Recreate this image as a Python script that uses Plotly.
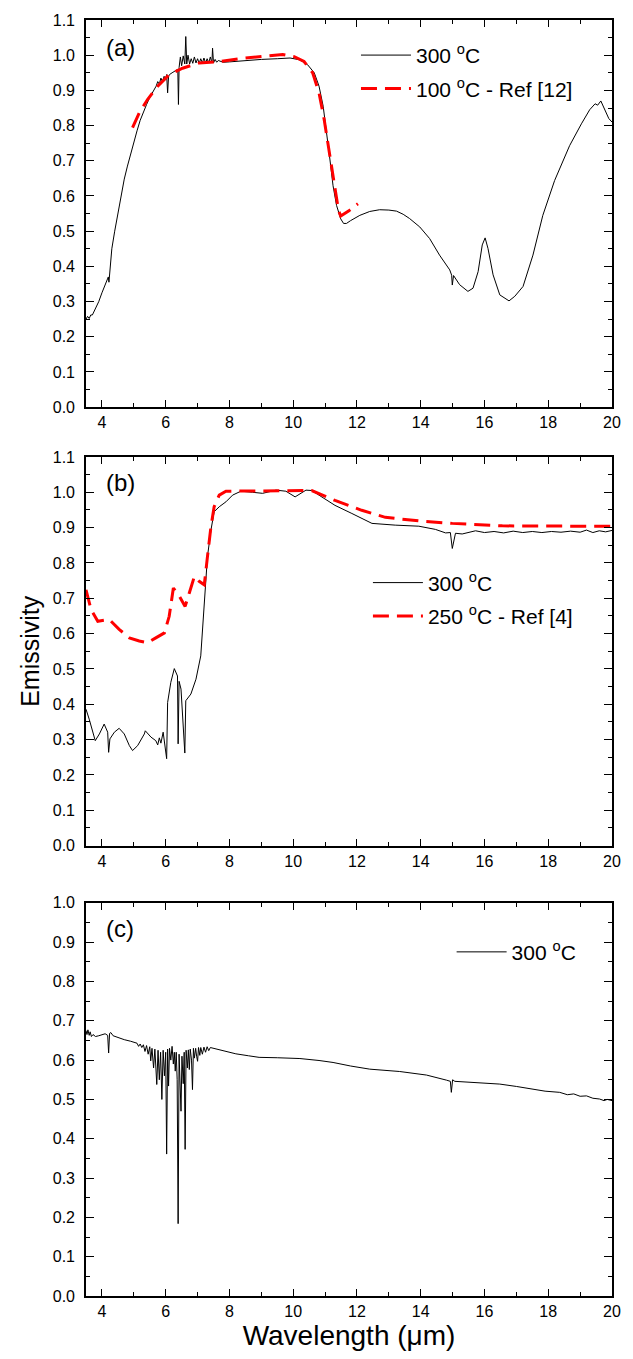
import plotly.graph_objects as go
from plotly.subplots import make_subplots

# ---------------- data ----------------
# Panel (a)
a_300_x = [3.5, 3.55, 3.6, 3.65, 3.7, 3.8, 3.9, 4.0, 4.1, 4.2, 4.22, 4.25, 4.28, 4.31, 4.4, 4.5, 4.6,
           4.7, 4.8, 4.9, 5.0, 5.1, 5.2, 5.3, 5.4, 5.5, 5.6, 5.7, 5.75, 5.8, 5.85, 5.9, 5.95, 6.0, 6.03,
           6.06, 6.09, 6.12, 6.2, 6.3, 6.38, 6.40, 6.42, 6.46, 6.5, 6.55, 6.6, 6.63, 6.66, 6.7, 6.75,
           6.8, 6.85, 6.9, 6.95, 7.0, 7.05, 7.1, 7.15, 7.2, 7.25, 7.3, 7.35, 7.4, 7.45, 7.47, 7.5, 7.55,
           7.6, 7.65, 7.8, 8.0, 8.5, 9.0, 9.5, 9.9, 10.2, 10.45, 10.66, 10.81, 10.94, 11.04, 11.15,
           11.25, 11.36, 11.49, 11.58, 11.67, 11.8, 12.09, 12.4, 12.71, 13.0, 13.24, 13.45, 13.65,
           13.97, 14.28, 14.59, 14.91, 14.97, 14.99, 15.03, 15.22, 15.48, 15.64, 15.8, 15.93, 16.02,
           16.11, 16.27, 16.48, 16.77, 16.95, 17.21, 17.52, 17.83, 18.2, 18.67, 19.04, 19.3, 19.47,
           19.55, 19.65, 19.72, 19.8, 19.9, 20.0]
a_300_y = [0.25, 0.258, 0.252, 0.262, 0.262, 0.28, 0.30, 0.325, 0.35, 0.37, 0.355, 0.395, 0.405, 0.45,
           0.50, 0.55, 0.60, 0.648, 0.685, 0.72, 0.755, 0.785, 0.815, 0.84, 0.86, 0.88, 0.895, 0.912,
           0.925, 0.918, 0.935, 0.925, 0.94, 0.93, 0.945, 0.893, 0.94, 0.945, 0.95, 0.955, 0.96, 0.86,
           0.965, 0.995, 0.97, 0.998, 0.975, 1.053, 0.975, 1.0, 0.975, 0.99, 0.977, 0.995, 0.978, 0.99,
           0.977, 0.99, 0.978, 0.992, 0.978, 0.99, 0.978, 0.995, 0.978, 1.02, 0.978, 0.988, 0.98, 0.985,
           0.98, 0.981, 0.985, 0.988, 0.99, 0.992, 0.987, 0.973, 0.95, 0.912, 0.855, 0.79, 0.705, 0.629,
           0.573, 0.535, 0.522, 0.522, 0.53, 0.545, 0.556, 0.561, 0.56, 0.557, 0.548, 0.536, 0.512,
           0.479, 0.432, 0.39, 0.375, 0.347, 0.374, 0.348, 0.329, 0.338, 0.385, 0.461, 0.481, 0.451,
           0.376, 0.319, 0.302, 0.315, 0.343, 0.432, 0.545, 0.644, 0.743, 0.805, 0.845, 0.862, 0.858,
           0.87, 0.855, 0.837, 0.82, 0.81]
a_ref_x = [4.96, 5.17, 5.43, 5.75, 6.11, 6.53, 7.05, 7.68, 8.31, 9.14, 9.67, 10.03, 10.34, 10.61,
           10.81, 10.97, 11.13, 11.28, 11.42, 11.49, 11.76, 12.03]
a_ref_y = [0.794, 0.836, 0.874, 0.912, 0.945, 0.963, 0.978, 0.982, 0.99, 0.998, 1.002, 0.996, 0.982,
           0.95, 0.893, 0.818, 0.723, 0.629, 0.559, 0.543, 0.559, 0.578]

# Panel (b)
b_300_x = [3.5, 3.6, 3.79, 3.92, 4.07, 4.18, 4.21, 4.25, 4.39, 4.54, 4.70, 4.86, 4.96, 5.12, 5.33,
           5.36, 5.54, 5.69, 5.75, 5.8, 5.85, 5.92, 6.03, 6.06, 6.16, 6.27, 6.37, 6.39, 6.42, 6.48,
           6.6, 6.63, 6.79, 6.95, 7.1, 7.21, 7.31, 7.42, 7.52, 7.68, 7.89, 8.1, 8.36, 8.72, 9.04, 9.46,
           9.77, 10.06, 10.4, 10.58, 10.9, 11.31, 11.84, 12.47, 13.2, 13.94, 14.46, 14.78, 14.93,
           14.99, 15.09, 15.3, 15.72, 16.0, 16.3, 16.6, 16.9, 17.2, 17.5, 17.8, 18.1, 18.4, 18.7,
           19.0, 19.2, 19.4, 19.6, 19.8, 20.0]
b_300_y = [0.386, 0.358, 0.297, 0.316, 0.344, 0.321, 0.264, 0.302, 0.321, 0.332, 0.316, 0.283, 0.269,
           0.283, 0.316, 0.325, 0.307, 0.297, 0.285, 0.305, 0.29, 0.321, 0.246, 0.405, 0.462, 0.501,
           0.48, 0.288, 0.465, 0.443, 0.262, 0.41, 0.429, 0.471, 0.537, 0.677, 0.818, 0.893, 0.945,
           0.959, 0.973, 0.992, 1.003, 1.0, 0.997, 1.006, 1.003, 0.987, 1.006, 1.005, 0.987, 0.963,
           0.94, 0.912, 0.907, 0.904, 0.895, 0.885, 0.886, 0.841, 0.884, 0.882, 0.891, 0.886, 0.889,
           0.885, 0.89, 0.886, 0.889, 0.886, 0.889, 0.887, 0.89, 0.887, 0.893, 0.886, 0.891, 0.888,
           0.892]
b_ref_x = [3.5, 3.66, 3.87, 4.23, 4.54, 4.86, 5.17, 5.43, 5.69, 5.96, 6.11, 6.24, 6.43, 6.61, 6.74,
           6.9, 7.05, 7.21, 7.31, 7.42, 7.52, 7.68, 7.89, 9.0, 10.0, 10.58, 11.31, 12.15, 12.89, 13.94,
           14.99, 16.56, 19.18, 20.0]
b_ref_y = [0.724, 0.668, 0.635, 0.64, 0.612, 0.588, 0.579, 0.574, 0.588, 0.602, 0.649, 0.729, 0.706,
           0.677, 0.715, 0.762, 0.748, 0.738, 0.818, 0.903, 0.959, 0.992, 1.003, 1.003, 1.003, 1.005,
           0.977, 0.949, 0.929, 0.919, 0.912, 0.905, 0.904, 0.904]

# Panel (c)
c_300_x = [3.5, 3.53, 3.56, 3.6, 3.63, 3.67, 3.72, 3.8, 3.9, 4.0, 4.1, 4.18, 4.21, 4.24, 4.28, 4.35,
           4.5, 4.7, 4.9, 5.0, 5.1, 5.15, 5.2, 5.25, 5.3, 5.35, 5.4, 5.45, 5.5, 5.53, 5.57, 5.62, 5.66,
           5.72, 5.76, 5.8, 5.84, 5.88, 5.92, 5.96, 6.0, 6.03, 6.06, 6.09, 6.12, 6.16, 6.2, 6.24, 6.27,
           6.3, 6.33, 6.36, 6.39, 6.42, 6.45, 6.48, 6.51, 6.55, 6.58, 6.61, 6.64, 6.68, 6.71, 6.74,
           6.77, 6.81, 6.84, 6.87, 6.9, 6.94, 6.97, 7.0, 7.03, 7.07, 7.1, 7.15, 7.2, 7.25, 7.3, 7.35,
           7.4, 7.5, 7.7, 7.9, 8.2, 8.6, 8.93, 9.5, 10.21, 10.81, 11.25, 11.8, 12.4, 13.34, 14.18,
           14.81, 14.93, 14.96, 15.0, 15.07, 15.64, 16.0, 16.48, 17.0, 17.52, 17.9, 18.36, 18.6, 18.8,
           19.0, 19.2, 19.4, 19.61, 19.75, 19.85, 20.0]
c_300_y = [0.675, 0.665, 0.677, 0.663, 0.672, 0.66, 0.665, 0.66, 0.662, 0.665, 0.667, 0.663, 0.618,
           0.668, 0.67, 0.662, 0.657, 0.652, 0.648, 0.646, 0.643, 0.635, 0.641, 0.632, 0.639, 0.622,
           0.637, 0.615, 0.634, 0.598, 0.63, 0.58, 0.628, 0.538, 0.625, 0.55, 0.62, 0.5, 0.625, 0.56,
           0.62, 0.361, 0.628, 0.534, 0.63, 0.6, 0.635, 0.59, 0.62, 0.572, 0.62, 0.55, 0.184, 0.615,
           0.52, 0.47, 0.61, 0.54, 0.62, 0.373, 0.625, 0.58, 0.626, 0.576, 0.628, 0.6, 0.525, 0.63,
           0.605, 0.63, 0.61, 0.597, 0.632, 0.612, 0.632, 0.615, 0.633, 0.62, 0.634, 0.624, 0.632,
           0.63, 0.627, 0.622, 0.616, 0.611, 0.607, 0.606, 0.604, 0.599, 0.594, 0.585, 0.577, 0.571,
           0.562, 0.549, 0.546, 0.518, 0.55, 0.546, 0.543, 0.542, 0.539, 0.533, 0.526, 0.521, 0.518,
           0.512, 0.514, 0.508, 0.509, 0.503, 0.501, 0.497, 0.5, 0.497]

name_300 = "300 <sup>o</sup>C"
name_ref_a = "100 <sup>o</sup>C - Ref [12]"
name_ref_b = "250 <sup>o</sup>C - Ref [4]"
panel_labels = ["(a)", "(b)", "(c)"]
x_title = "Wavelength (μm)"
y_title = "Emissivity"

# ---------------- figure ----------------
FONT = "Arial, 'Liberation Sans', sans-serif"
W, H = 633, 1359
ML, MR, MT, MB = 86, 19, 14, 63
ph = H - MT - MB


def py_to_paper(py):
    return (H - MB - py) / ph


fig = make_subplots(rows=3, cols=1)

black = dict(color="black", width=1)
red = dict(color="#FF0000", width=3, dash="16px,8px")

fig.add_trace(go.Scatter(x=a_300_x, y=a_300_y, mode="lines", line=black, name=name_300,
                         legend="legend", legendgroup="a1"), row=1, col=1)
fig.add_trace(go.Scatter(x=a_ref_x, y=a_ref_y, mode="lines", line=red, name=name_ref_a,
                         legend="legend", legendgroup="a2"), row=1, col=1)
fig.add_trace(go.Scatter(x=b_300_x, y=b_300_y, mode="lines", line=black, name=name_300,
                         legend="legend2", legendgroup="b1"), row=2, col=1)
fig.add_trace(go.Scatter(x=b_ref_x, y=b_ref_y, mode="lines", line=red, name=name_ref_b,
                         legend="legend2", legendgroup="b2"), row=2, col=1)
fig.add_trace(go.Scatter(x=c_300_x, y=c_300_y, mode="lines", line=black, name=name_300,
                         legend="legend3", legendgroup="c1"), row=3, col=1)

domains = [(py_to_paper(403), py_to_paper(14)),
           (py_to_paper(843.5), py_to_paper(453)),
           (py_to_paper(1296), py_to_paper(901))]
yranges = [[0, 1.1], [0, 1.1], [0, 1.0]]

axis_common = dict(showline=True, linecolor="black", linewidth=1.6, mirror="allticks",
                   ticks="inside", tickcolor="black", tickwidth=1.4, showgrid=False,
                   zeroline=False, tickfont=dict(family=FONT, size=16, color="black"))

for i in range(3):
    fig.update_xaxes(range=[3.5, 20], tick0=0, dtick=2, ticklen=7,
                     minor=dict(ticks="inside", ticklen=4, dtick=1, tickcolor="black", tickwidth=1.4),
                     domain=[0, 1], row=i + 1, col=1, **axis_common)
    fig.update_yaxes(range=yranges[i], tick0=0, dtick=0.1, tickformat=".1f", ticklen=8,
                     ticklabelstandoff=6,
                     minor=dict(ticks="inside", ticklen=4.5, dtick=0.05, tickcolor="black",
                                tickwidth=1.4),
                     domain=list(domains[i]), row=i + 1, col=1, **axis_common)

fig.update_xaxes(title=dict(text=x_title, font=dict(family=FONT, size=28, color="black"),
                            standoff=2), row=3, col=1)
fig.update_yaxes(title=dict(text=y_title, font=dict(family=FONT, size=25, color="black"),
                            standoff=6), row=2, col=1)

for i, lab in enumerate(panel_labels):
    ref = "" if i == 0 else str(i + 1)
    fig.add_annotation(text=lab, xref=f"x{ref} domain", yref=f"y{ref} domain",
                       x=0.034, y=[0.928, 0.933, 0.934][i], xanchor="left", yanchor="middle",
                       showarrow=False, font=dict(family=FONT, size=24, color="black"))

leg_common = dict(bgcolor="rgba(0,0,0,0)", borderwidth=0, itemwidth=50,
                  font=dict(family=FONT, size=21, color="black"),
                  xanchor="left", yanchor="top", tracegroupgap=3)

fig.update_layout(
    width=W, height=H,
    margin=dict(l=ML, r=MR, t=MT, b=MB),
    paper_bgcolor="white", plot_bgcolor="white",
    showlegend=True,
    legend=dict(x=(357 - ML) / 528, y=py_to_paper(29), **leg_common),
    legend2=dict(x=(369 - ML) / 528, y=py_to_paper(559), **leg_common),
    legend3=dict(x=(453 - ML) / 528, y=py_to_paper(930), **leg_common),
)

fig.write_html("out.html")
